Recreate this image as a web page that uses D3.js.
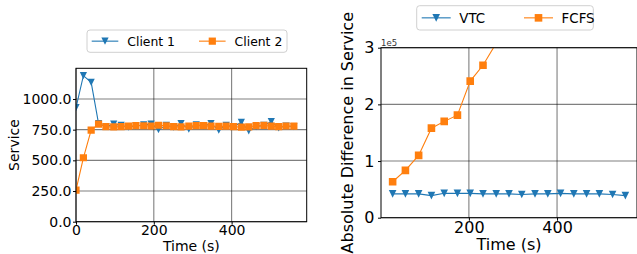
<!DOCTYPE html>
<html>
<head>
<meta charset="utf-8">
<script src="https://cdn.jsdelivr.net/npm/d3@7"></script>
<style>
  body { margin: 0; background: #fff; }
  svg { font-family: "DejaVu Sans", sans-serif; }
</style>
</head>
<body>
<svg id="chart" width="637" height="254"></svg>
<script>
// left panel: service per client over time
const serviceTimes = [0, 19, 39, 58, 77, 97, 116, 135, 154, 174, 193, 212, 232, 251, 270,
                      290, 309, 328, 347, 367, 386, 405, 425, 444, 463, 483, 502, 521, 540, 560];
const client1 = [930, 1190, 1135, 800, 775, 795, 785, 770, 780, 790, 795, 750, 785, 770, 800,
                 755, 790, 780, 800, 745, 785, 775, 810, 740, 775, 785, 815, 765, 780, 775];
const client2 = [258, 521, 747, 795, 775, 772, 775, 778, 783, 782, 780, 786, 782, 775, 773,
                 778, 783, 783, 778, 777, 778, 775, 770, 772, 783, 785, 778, 775, 780, 778];
const serviceTicksX = [0, 200, 400];
const serviceTicksY = [0, 250, 500, 750, 1000];

// right panel: absolute difference in service
const diffTimes = [27, 56, 86, 115, 144, 174, 203, 232, 262, 291, 320, 350, 379, 408, 438, 467, 496, 526, 555];
const vtc = [0.42, 0.42, 0.42, 0.39, 0.43, 0.43, 0.43, 0.42, 0.42, 0.42, 0.41, 0.42, 0.42, 0.43, 0.42, 0.42, 0.42, 0.41, 0.39];
const fcfs = [0.635, 0.835, 1.10, 1.58, 1.70, 1.81, 2.41, 2.69, 3.08, 3.35, 3.6, 3.9, 4.1, 4.4, 4.6, 4.9, 5.1, 5.4, 5.6];
const diffTicksX = [200, 400];
const diffTicksY = [0, 1, 2, 3];

const BLUE = "#1f77b4", ORANGE = "#ff7f0e";

const svg = d3.select("#chart");

function triDown(r) {
    return `M${-r},${-r}L${r},${-r}L0,${r}Z`;
}
function square(r) {
    return `M${-r},${-r}H${r}V${r}H${-r}Z`;
}

function drawPanel(cfg) {
    const x = d3.scaleLinear().domain(cfg.xDomain).range(cfg.xRange);
    const y = d3.scaleLinear().domain(cfg.yDomain).range(cfg.yRange);
    const [x0, x1] = cfg.xRange, [y0, y1] = cfg.yRange;
    const g = svg.append("g");

    // grid
    g.append("g").selectAll("line").data(cfg.xTicks).join("line")
        .attr("x1", d => x(d)).attr("x2", d => x(d))
        .attr("y1", y0).attr("y2", y1)
        .attr("stroke", "#000").attr("stroke-opacity", 0.5).attr("stroke-width", 1.1);
    g.append("g").selectAll("line").data(cfg.yTicks).join("line")
        .attr("x1", x0).attr("x2", x1)
        .attr("y1", d => y(d)).attr("y2", d => y(d))
        .attr("stroke", "#000").attr("stroke-opacity", 0.5).attr("stroke-width", 1.1);

    // series
    const clipId = cfg.id + "-clip";
    svg.append("clipPath").attr("id", clipId).append("rect")
        .attr("x", x0).attr("y", y1).attr("width", x1 - x0).attr("height", y0 - y1);
    const plot = g.append("g").attr("clip-path", `url(#${clipId})`);
    const line = d3.line().x(d => x(d[0])).y(d => y(d[1]));
    cfg.series.forEach(s => {
        const pts = cfg.times.map((t, i) => [t, s.values[i]]);
        plot.append("path").datum(pts).attr("d", line)
            .attr("fill", "none").attr("stroke", s.color).attr("stroke-width", 1.1);
        plot.append("g").selectAll("path").data(pts).join("path")
            .attr("transform", d => `translate(${x(d[0])},${y(d[1])})`)
            .attr("d", s.marker(cfg.markerR))
            .attr("fill", s.color);
    });

    // axes
    const ax = g.append("g").attr("transform", `translate(0,${y0})`)
        .call(d3.axisBottom(x).tickValues(cfg.xTicks).tickSize(3).tickSizeOuter(0).tickPadding(cfg.xPad));
    ax.select(".domain").remove();
    ax.selectAll("text").attr("font-size", cfg.fs).attr("fill", "#000").attr("font-family", "DejaVu Sans");
    const ay = g.append("g").attr("transform", `translate(${x0},0)`)
        .call(d3.axisLeft(y).tickValues(cfg.yTicks).tickSize(3).tickSizeOuter(0).tickPadding(cfg.yPad).tickFormat(cfg.yFormat));
    ay.select(".domain").remove();
    ay.selectAll("text").attr("font-size", cfg.fs).attr("fill", "#000").attr("font-family", "DejaVu Sans");

    g.append("rect").attr("x", x0).attr("y", y1).attr("width", x1 - x0).attr("height", y0 - y1)
        .attr("fill", "none").attr("stroke", "#000").attr("stroke-width", 1);

    // labels
    g.append("text").attr("x", (x0 + x1) / 2).attr("y", cfg.xLabelY)
        .attr("text-anchor", "middle").attr("font-size", cfg.fs).text("Time (s)");
    g.append("text").attr("transform", `translate(${cfg.yLabelX},${(y0 + y1) / 2}) rotate(-90)`)
        .attr("text-anchor", "middle").attr("font-size", cfg.fs).text(cfg.yLabel);

    // legend
    const L = cfg.legend;
    const lg = g.append("g");
    lg.append("rect").attr("x", L.x).attr("y", L.y).attr("width", L.w).attr("height", L.h)
        .attr("rx", 3).attr("fill", "#fff").attr("fill-opacity", 0.8)
        .attr("stroke", "#d0d0d0").attr("stroke-width", 1);
    cfg.series.forEach((s, i) => {
        const hx = L.items[i], cy = L.y + L.h / 2;
        lg.append("line").attr("x1", hx).attr("x2", hx + L.hw).attr("y1", cy).attr("y2", cy)
            .attr("stroke", s.color).attr("stroke-width", 1.1);
        lg.append("path").attr("transform", `translate(${hx + L.hw / 2},${cy})`)
            .attr("d", s.marker(cfg.markerR)).attr("fill", s.color);
        lg.append("text").attr("x", hx + L.hw + L.gap).attr("y", cy).attr("dy", "0.36em")
            .attr("font-size", L.fs).text(s.name);
    });
    return g;
}

drawPanel({
    id: "left",
    xDomain: [0, 593], xRange: [76, 306.7],
    yDomain: [0, 1250], yRange: [221.7, 68.3],
    xTicks: serviceTicksX, yTicks: serviceTicksY,
    yFormat: d3.format(".1f"),
    times: serviceTimes,
    series: [
        { name: "Client 1", values: client1, color: BLUE, marker: triDown },
        { name: "Client 2", values: client2, color: ORANGE, marker: square }
    ],
    markerR: 3.6, fs: 14, xPad: 0, yPad: 1.5,
    xLabelY: 250.5, yLabelX: 19, yLabel: "Service",
    legend: { x: 87, y: 30, w: 200, h: 22.3, items: [91.7, 199], hw: 26.6, gap: 9, fs: 12.4 }
});

const right = drawPanel({
    id: "right",
    xDomain: [0.6, 581.4], xRange: [381, 637],
    yDomain: [0, 3], yRange: [217.7, 47.7],
    xTicks: diffTicksX, yTicks: diffTicksY,
    yFormat: d3.format("d"),
    times: diffTimes,
    series: [
        { name: "VTC", values: vtc, color: BLUE, marker: triDown },
        { name: "FCFS", values: fcfs, color: ORANGE, marker: square }
    ],
    markerR: 3.8, fs: 16, xPad: 1, yPad: 3.5,
    xLabelY: 250, yLabelX: 353, yLabel: "Absolute Difference in Service",
    legend: { x: 416.7, y: 5.7, w: 176.6, h: 24.3, items: [421.7, 524], hw: 29, gap: 8.6, fs: 13.4 }
});

// scale factor label of the right y axis
right.append("text").attr("x", 381).attr("y", 45.5).attr("font-size", 8.5).attr("fill", "#333").text("1e5");
</script>
</body>
</html>
